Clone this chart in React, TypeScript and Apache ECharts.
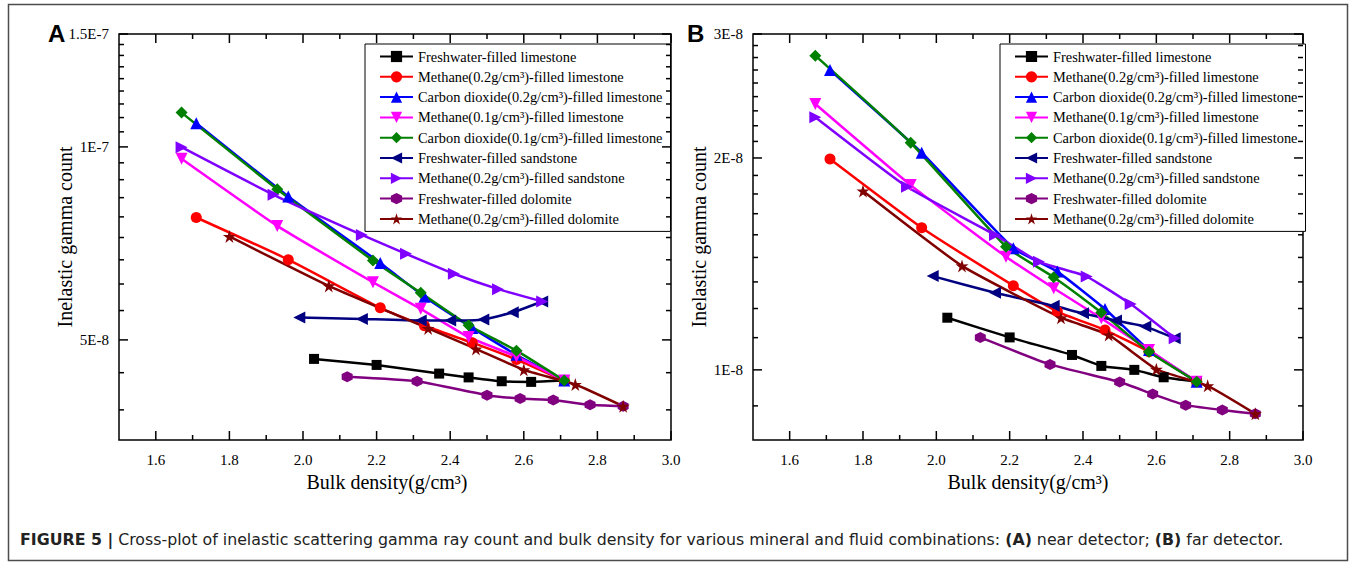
import React, { useEffect, useRef } from 'react';
import * as echarts from 'echarts';

// ---------- data (intensities in units of 1E-8) ----------
const SCALE = 1e-8;

const seriesNames = [
  'Freshwater-filled limestone',
  'Methane(0.2g/cm³)-filled limestone',
  'Carbon dioxide(0.2g/cm³)-filled limestone',
  'Methane(0.1g/cm³)-filled limestone',
  'Carbon dioxide(0.1g/cm³)-filled limestone',
  'Freshwater-filled sandstone',
  'Methane(0.2g/cm³)-filled sandstone',
  'Freshwater-filled dolomite',
  'Methane(0.2g/cm³)-filled dolomite',
];

// bulk density (g/cm3)
const xFreshLime = [2.03, 2.20, 2.37, 2.45, 2.54, 2.62, 2.71];
const xMeth02Lime = [1.71, 1.96, 2.21, 2.33, 2.46, 2.58, 2.71];
const xCO2_02Lime = [1.71, 1.96, 2.21, 2.33, 2.46, 2.58, 2.71];
const xMeth01Lime = [1.67, 1.93, 2.19, 2.32, 2.45, 2.58, 2.71];
const xCO2_01Lime = [1.67, 1.93, 2.19, 2.32, 2.45, 2.58, 2.71];
const xFreshSand = [1.99, 2.16, 2.32, 2.40, 2.49, 2.57, 2.65];
const xMeth02Sand = [1.67, 1.92, 2.16, 2.28, 2.41, 2.53, 2.65];
const xFreshDolo = [2.12, 2.31, 2.50, 2.59, 2.68, 2.78, 2.87];
const xMeth02Dolo = [1.80, 2.07, 2.34, 2.47, 2.60, 2.74, 2.87];

// (A) near detector
const nearFreshLime = [4.67, 4.57, 4.43, 4.37, 4.31, 4.30, 4.32];
const nearMeth02Lime = [7.76, 6.67, 5.61, 5.26, 4.95, 4.66, 4.32];
const nearCO2_02Lime = [10.89, 8.37, 6.59, 5.84, 5.22, 4.74, 4.32];
const nearMeth01Lime = [9.58, 7.53, 6.15, 5.59, 5.05, 4.71, 4.32];
const nearCO2_01Lime = [11.31, 8.59, 6.65, 5.92, 5.27, 4.81, 4.32];
const nearFreshSand = [5.42, 5.39, 5.36, 5.36, 5.38, 5.52, 5.74];
const nearMeth02Sand = [9.99, 8.42, 7.29, 6.81, 6.34, 6.0, 5.74];
const nearFreshDolo = [4.38, 4.31, 4.10, 4.05, 4.03, 3.96, 3.94];
const nearMeth02Dolo = [7.25, 6.07, 5.21, 4.84, 4.49, 4.26, 3.94];

// (B) far detector
const farFreshLime = [1.186, 1.112, 1.05, 1.013, 1.0, 0.976, 0.962];
const farMeth02Lime = [1.993, 1.592, 1.317, 1.21, 1.139, 1.061, 0.962];
const farCO2_02Lime = [2.667, 2.035, 1.489, 1.379, 1.22, 1.067, 0.962];
const farMeth01Lime = [2.386, 1.83, 1.448, 1.306, 1.184, 1.067, 0.962];
const farCO2_01Lime = [2.795, 2.102, 1.496, 1.354, 1.206, 1.061, 0.962];
const farFreshSand = [1.359, 1.287, 1.233, 1.203, 1.175, 1.152, 1.109];
const farMeth02Sand = [2.285, 1.82, 1.555, 1.424, 1.357, 1.24, 1.109];
const farFreshDolo = [1.112, 1.018, 0.961, 0.924, 0.891, 0.877, 0.866];
const farMeth02Dolo = [1.795, 1.405, 1.186, 1.121, 1.002, 0.949, 0.866];

// axes
const X_MIN = 1.5;
const X_MAX = 3.0;
const xTickValues = [1.6, 1.8, 2.0, 2.2, 2.4, 2.6, 2.8, 3.0];
const xMinorTickValues = [1.7, 1.9, 2.1, 2.3, 2.5, 2.7, 2.9];
const nearTickValues = [5e-8, 1e-7, 1.5e-7];
const nearTickLabels = ['5E-8', '1E-7', '1.5E-7'];
const farTickValues = [1e-8, 2e-8, 3e-8];
const farTickLabels = ['1E-8', '2E-8', '3E-8'];
const NEAR_MIN = 3.49e-8;
const NEAR_MAX = 1.5e-7 * 1.000001;
const FAR_MIN = 7.95e-9;
const FAR_MAX = 3e-8 * 1.000001;

const xTitle = 'Bulk density(g/cm³)';
const yTitle = 'Inelastic gamma count';
const captionText =
  '{b|FIGURE 5 |} Cross-plot of inelastic scattering gamma ray count and bulk density for various mineral and fluid combinations: {b|(A)} near detector; {b|(B)} far detector.';

// ---------- styles ----------
const FONT_SERIF = '"Liberation Serif", "Times New Roman", serif';
const FONT_SANS = '"Liberation Sans", Arial, sans-serif';
const FONT_CAPTION = '"DejaVu Sans", "Liberation Sans", sans-serif';

const STAR =
  'path://M50,0 L61.2,34.6 L97.6,34.5 L68.1,55.9 L79.4,90.5 L50,69 L20.6,90.5 L31.9,55.9 L2.4,34.5 L38.8,34.6 Z';
const TRI_DOWN = 'path://M0,0 L10,0 L5,9 Z';
const TRI_LEFT = 'path://M0,5 L9,0 L9,10 Z';
const TRI_RIGHT = 'path://M0,0 L9,5 L0,10 Z';
const HEXAGON = 'path://M5,0 L9.33,2.5 L9.33,7.5 L5,10 L0.67,7.5 L0.67,2.5 Z';

const seriesDefs = [
  { color: '#000000', symbol: 'rect', size: 10, x: xFreshLime, near: nearFreshLime, far: farFreshLime },
  { color: '#FF0000', symbol: 'circle', size: 11, x: xMeth02Lime, near: nearMeth02Lime, far: farMeth02Lime },
  { color: '#0000FF', symbol: 'triangle', size: 12, x: xCO2_02Lime, near: nearCO2_02Lime, far: farCO2_02Lime },
  { color: '#FF00FF', symbol: TRI_DOWN, size: 12, x: xMeth01Lime, near: nearMeth01Lime, far: farMeth01Lime },
  { color: '#008000', symbol: 'diamond', size: 12, x: xCO2_01Lime, near: nearCO2_01Lime, far: farCO2_01Lime },
  { color: '#000080', symbol: TRI_LEFT, size: 12, x: xFreshSand, near: nearFreshSand, far: farFreshSand },
  { color: '#8000FF', symbol: TRI_RIGHT, size: 12, x: xMeth02Sand, near: nearMeth02Sand, far: farMeth02Sand },
  { color: '#800080', symbol: HEXAGON, size: 11, x: xFreshDolo, near: nearFreshDolo, far: farFreshDolo },
  { color: '#800000', symbol: STAR, size: 13, x: xMeth02Dolo, near: nearMeth02Dolo, far: farMeth02Dolo },
];

// minor ticks: 8 per major interval (Origin style)
function minorTicks(majors: number[], n: number, min: number): number[] {
  const out: number[] = [];
  const step = (majors[1] - majors[0]) / (n + 1);
  for (let v = majors[0] - step; v > min; v -= step) out.push(v);
  for (let i = 0; i < majors.length - 1; i++) {
    for (let k = 1; k <= n; k++) out.push(majors[i] + k * step);
  }
  return out;
}

function buildXAxis(gridIndex: number, namePadding: number[]) {
  return {
    type: 'value',
    gridIndex,
    min: X_MIN,
    max: X_MAX,
    position: 'bottom',
    splitLine: { show: false },
    name: xTitle,
    nameLocation: 'middle',
    nameGap: 31,
    nameTextStyle: { fontFamily: FONT_SERIF, fontSize: 20, color: '#000', padding: namePadding },
    axisLine: { show: false, onZero: false },
    axisTick: { show: false },
    axisLabel: {
      show: true,
      margin: 12,
      fontFamily: FONT_SERIF,
      fontSize: 15,
      color: '#000',
      customValues: xTickValues,
      formatter: (v: number) => v.toFixed(1),
    },
  };
}

function buildYAxis(gridIndex: number, min: number, max: number, ticks: number[], labels: string[]) {
  const fmt = (v: number) => {
    const i = ticks.findIndex((t) => Math.abs(t - v) / t < 1e-4);
    return i >= 0 ? labels[i] : '';
  };
  return {
    type: 'log',
    logBase: 10,
    gridIndex,
    min,
    max,
    position: 'left',
    splitLine: { show: false },
    name: yTitle,
    nameLocation: 'middle',
    nameGap: 44,
    nameMoveOverlap: false,
    nameTextStyle: { fontFamily: FONT_SERIF, fontSize: 20, color: '#000' },
    axisLine: { show: false, onZero: false },
    axisTick: { show: false },
    axisLabel: {
      show: true,
      margin: 10,
      fontFamily: FONT_SERIF,
      fontSize: 15,
      color: '#000',
      customValues: ticks,
      formatter: fmt,
    },
  };
}

// inward ticks on all four sides, positioned through the axes' own scales
function buildTickSeries(panel: number, yMin: number, yTicks: number[]) {
  const yMinors = minorTicks(yTicks, 8, yMin);
  const data = [
    ...xTickValues.map((v) => [v, yMin, 0]),
    ...xMinorTickValues.map((v) => [v, yMin, 1]),
    ...yTicks.map((v) => [X_MIN, v, 2]),
    ...yMinors.map((v) => [X_MIN, v, 3]),
  ];
  return {
    type: 'custom',
    name: 'ticks' + panel,
    coordinateSystem: 'cartesian2d',
    xAxisIndex: panel,
    yAxisIndex: panel,
    silent: true,
    clip: false,
    z: 5,
    data,
    encode: { x: 0, y: 1 },
    renderItem: (params: any, api: any) => {
      const cs = params.coordSys;
      const kind = api.value(2);
      const p = api.coord([api.value(0), api.value(1)]);
      const len = kind === 0 || kind === 2 ? 9 : 5;
      const style = { stroke: '#000', lineWidth: 1.5, fill: null };
      if (kind < 2) {
        const bottom = cs.y + cs.height;
        return {
          type: 'group',
          children: [
            { type: 'line', shape: { x1: p[0], y1: bottom, x2: p[0], y2: bottom - len }, style },
            { type: 'line', shape: { x1: p[0], y1: cs.y, x2: p[0], y2: cs.y + len }, style },
          ],
        };
      }
      const right = cs.x + cs.width;
      return {
        type: 'group',
        children: [
          { type: 'line', shape: { x1: cs.x, y1: p[1], x2: cs.x + len, y2: p[1] }, style },
          { type: 'line', shape: { x1: right, y1: p[1], x2: right - len, y2: p[1] }, style },
        ],
      };
    },
  };
}

function buildSeries(panel: number) {
  return seriesDefs.map((d, i) => {
    const ys = panel === 0 ? d.near : d.far;
    return {
      type: 'line',
      name: seriesNames[i],
      xAxisIndex: panel,
      yAxisIndex: panel,
      data: d.x.map((x, k) => [x, ys[k] * SCALE]),
      symbol: d.symbol,
      symbolSize: d.size,
      smooth: 0.15,
      showAllSymbol: true,
      lineStyle: { color: d.color, width: 2.5 },
      itemStyle: { color: d.color, borderWidth: 0 },
      emphasis: { disabled: true },
      z: 2,
    };
  });
}

function buildLegend(left: number) {
  return {
    data: seriesNames,
    orient: 'vertical',
    left,
    top: 44,
    itemWidth: 33,
    itemHeight: 14,
    itemGap: 5.3,
    padding: [5, 8, 5, 14],
    borderColor: '#000',
    borderWidth: 1,
    borderRadius: 0,
    backgroundColor: '#fff',
    selectedMode: false,
    textStyle: { fontFamily: FONT_SERIF, fontSize: 14.4, color: '#000', lineHeight: 15 },
  };
}

export default function App() {
  const ref = useRef<HTMLDivElement>(null);

  useEffect(() => {
    if (!ref.current) return;
    document.body.style.margin = '0';
    const chart = echarts.init(ref.current, undefined, { renderer: 'svg' });
    chart.setOption({
      animation: false,
      backgroundColor: '#ffffff',
      grid: [
        {
          left: 119, top: 34, width: 552, height: 406, outerBoundsMode: 'none',
          show: true, borderColor: '#000', borderWidth: 1.5, backgroundColor: 'rgba(0,0,0,0)',
        },
        {
          left: 753, top: 34, width: 550, height: 406, outerBoundsMode: 'none',
          show: true, borderColor: '#000', borderWidth: 1.5, backgroundColor: 'rgba(0,0,0,0)',
        },
      ],
      xAxis: [buildXAxis(0, [0, 16, 0, 0]), buildXAxis(1, [0, 0, 0, 0])],
      yAxis: [
        buildYAxis(0, NEAR_MIN, NEAR_MAX, nearTickValues, nearTickLabels),
        buildYAxis(1, FAR_MIN, FAR_MAX, farTickValues, farTickLabels),
      ],
      legend: [buildLegend(365), buildLegend(1000)],
      tooltip: { show: false },
      series: [
        buildTickSeries(0, NEAR_MIN, nearTickValues),
        buildTickSeries(1, FAR_MIN, farTickValues),
        ...buildSeries(0),
        ...buildSeries(1),
      ],
      graphic: [
        {
          type: 'rect',
          shape: { x: 8.5, y: 4.5, width: 1339, height: 556 },
          style: { fill: 'none', stroke: '#4d4d4d', lineWidth: 1.5 },
          silent: true,
        },
        { type: 'text', x: 48, y: 21, style: { text: 'A', font: `bold 24px ${FONT_SANS}`, fill: '#000' } },
        { type: 'text', x: 687, y: 21, style: { text: 'B', font: `bold 24px ${FONT_SANS}`, fill: '#000' } },
        {
          type: 'text',
          x: 20,
          y: 531,
          style: {
            text: captionText,
            fontFamily: FONT_CAPTION,
            fontSize: 15.8,
            fill: '#222',
            rich: { b: { fontFamily: FONT_CAPTION, fontSize: 15.8, fontWeight: 'bold', fill: '#222' } },
          },
        },
      ],
    });
    return () => chart.dispose();
  }, []);

  return (
    <div
      ref={ref}
      style={{ position: 'fixed', left: 0, top: 0, width: 1356, height: 563, background: '#fff' }}
    />
  );
}
